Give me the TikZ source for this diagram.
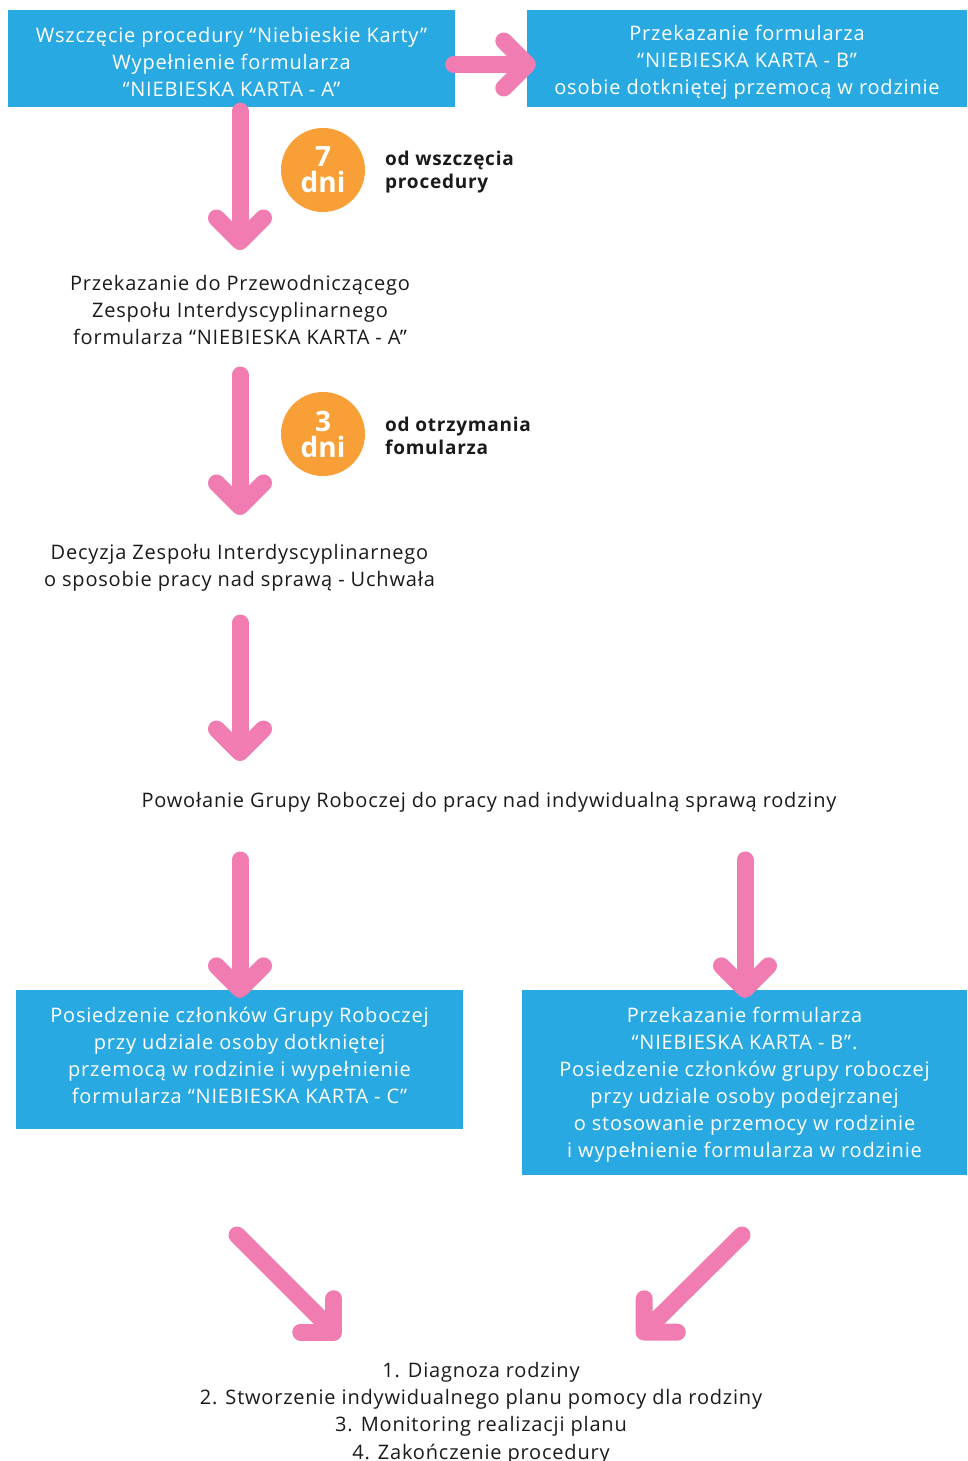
\documentclass[tikz,border=0pt]{standalone}
\usepackage{fontspec}
\setmainfont[LetterSpace=4]{Open Sans}
\newfontfamily\circfont{Open Sans}
\usetikzlibrary{arrows.meta}
\definecolor{boxblue}{HTML}{29A9E1}
\definecolor{arrpink}{HTML}{F07CB1}
\definecolor{dayorange}{HTML}{F8A037}
\definecolor{txt}{HTML}{1A1A1A}
\tikzset{
  bluebox/.style={fill=boxblue, draw=none, inner sep=0pt},
  boxtext/.style={text=white, align=center, inner sep=0pt,
    font=\fontsize{20}{27}\selectfont},
  plaintext/.style={align=center, text=txt, inner sep=0pt,
    font=\fontsize{20}{27}\selectfont},
  pinkarrow/.style={draw=arrpink, line width=17pt, line cap=round,
    -{Straight Barb[length=23.5pt,width=47pt,round]}},
  daycircle/.style={circle, fill=dayorange, minimum size=84pt, inner sep=0pt,
    text=white, align=center, font=\circfont\bfseries\fontsize{28}{26}\selectfont},
  daylabel/.style={anchor=west, align=left, inner sep=0pt, text=txt,
    font=\bfseries\fontsize{19}{23}\selectfont}
}
\begin{document}
\begin{tikzpicture}[x=1pt,y=-1pt]
\useasboundingbox[fill=white] (0,0) rectangle (967,1461);
% boxes
\node[bluebox, minimum width=447pt, minimum height=97pt] (A) at (231.5,58.5) {};
\node[bluebox, minimum width=440pt, minimum height=97pt] (B) at (747,58.5) {};
\node[bluebox, minimum width=447pt, minimum height=139pt] (C) at (239.5,1059.5) {};
\node[bluebox, minimum width=445pt, minimum height=185pt] (D) at (744.5,1082.5) {};
% box texts
\node[boxtext] (At) at (231.5,62.5)
  {Wszczęcie procedury “Niebieskie Karty”\\Wypełnienie formularza\\“NIEBIESKA KARTA - A”};
\node[boxtext] (Bt) at (747,62.5)
  {Przekazanie formularza\\“NIEBIESKA KARTA - B”\\osobie dotkniętej przemocą w rodzinie};
\node[boxtext] (Ct) at (239.5,1055.5)
  {Posiedzenie członków Grupy Roboczej\\przy udziale osoby dotkniętej\\przemocą w rodzinie i wypełnienie\\formularza “NIEBIESKA KARTA - C”};
\node[boxtext] (Dt) at (744.5,1084.5)
  {Przekazanie formularza\\“NIEBIESKA KARTA - B”.\\Posiedzenie członków grupy roboczej\\przy udziale osoby podejrzanej\\o stosowanie przemocy w rodzinie\\i wypełnienie formularza w rodzinie};
% plain texts
\node[plaintext] (P) at (240,310)
  {Przekazanie do Przewodniczącego\\Zespołu Interdyscyplinarnego\\formularza “NIEBIESKA KARTA - A”};
\node[plaintext] (Q) at (239.5,567.5)
  {Decyzja Zespołu Interdyscyplinarnego\\o sposobie pracy nad sprawą - Uchwała};
\node[plaintext] (R) at (489,802)
  {Powołanie Grupy Roboczej do pracy nad indywidualną sprawą rodziny};
\node[plaintext, font=\fontsize{20}{27.3}\selectfont] (S) at (481,1413)
  {1. Diagnoza rodziny\\2. Stworzenie indywidualnego planu pomocy dla rodziny\\3. Monitoring realizacji planu\\4. Zakończenie procedury};
% day circles
\node[daycircle] (C7) at (323,170) {7\\dni};
\node[daylabel] (L7) at (385,172) {od wszczęcia\\procedury};
\node[daycircle] (C3) at (323,434) {3\\dni};
\node[daylabel] (L3) at (385,436) {od otrzymania\\fomularza};
% arrow end coordinates
\coordinate (e1) at (240,250);
\coordinate (s2) at (240,375);
\coordinate (e2) at (240,515);
\coordinate (s3) at (240,623);
\coordinate (e3) at (240,761);
\coordinate (s4) at (240,860);
\coordinate (s5) at (745,860);
\coordinate (s6) at (237,1235);
\coordinate (e6) at (340,1338);
\coordinate (s7) at (742,1235);
\coordinate (e7) at (638,1338);
% arrows
\draw[pinkarrow] ([shift={(-1.5,6)}]A.east) -- ([shift={(9,6)}]B.west);
\draw[pinkarrow] ([shift={(8.5,4)}]A.south) -- (e1);
\draw[pinkarrow] (s2) -- (e2);
\draw[pinkarrow] (s3) -- (e3);
\draw[pinkarrow] (s4) -- ([yshift=-8]C.north -| s4);
\draw[pinkarrow] (s5) -- ([yshift=-8]D.north -| s5);
\draw[pinkarrow] (s6) -- (e6);
\draw[pinkarrow] (s7) -- (e7);
\end{tikzpicture}
\end{document}
